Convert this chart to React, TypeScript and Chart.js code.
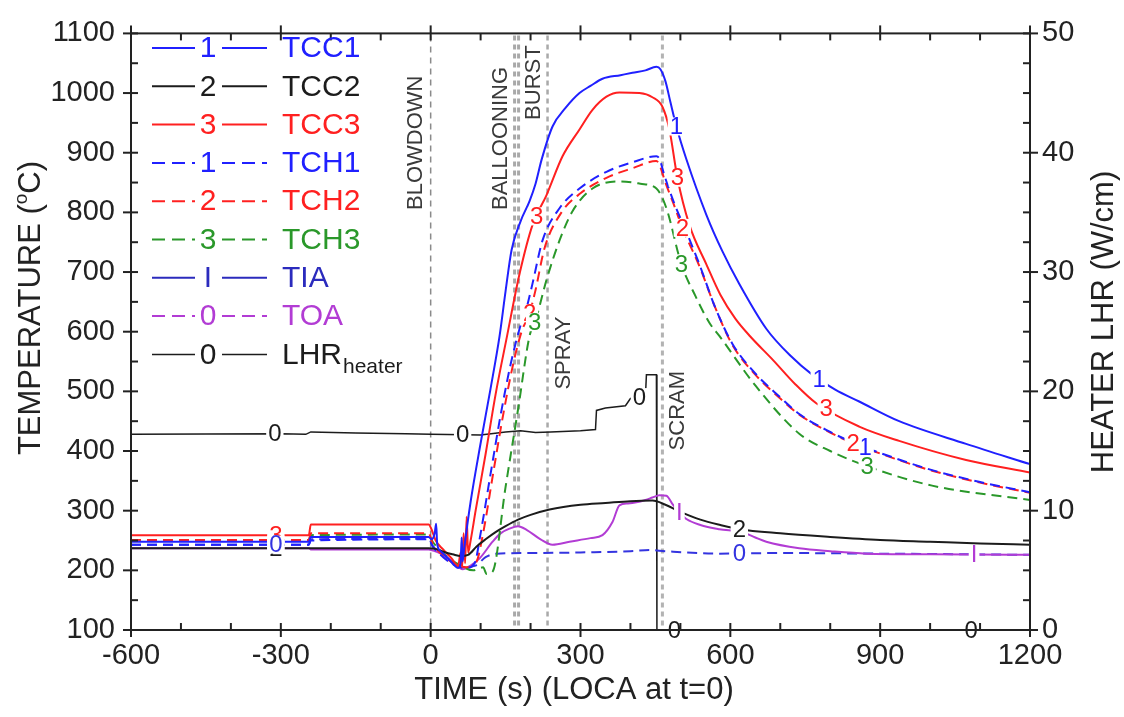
import React, { useEffect, useRef } from "react";
import { Chart, registerables } from "chart.js";

Chart.register(...registerables);

type P = [number, number];

const X_TICKS = [-600, -300, 0, 300, 600, 900, 1200];

const TCC1: P[] = [[-600,248],[-244,248],[-240,256],[-4,256],[2,252],[8,262],[11,278],[13,245],[20,232],[35,220],[48,208],[55,204],[60,212],[62,255],[64,215],[67,236],[80,315],[100,413],[120,505],[138,593],[150,668],[162,737],[180,785],[198,819],[210,848],[222,888],[244,944],[270,975],[298,1000],[320,1012],[344,1024],[380,1030],[404,1034],[430,1038],[452,1044],[460,1040],[470,1020],[480,985],[492,944],[512,889],[552,796],[584,735],[618,680],[672,605],[720,560],[764,528],[810,503],[858,483],[938,450],[1072,412],[1200,378]];
const TCC2: P[] = [[-600,237],[-4,237],[10,236],[30,230],[44,227],[60,224],[75,226],[92,240],[110,252],[130,264],[150,274],[175,285],[200,293],[238,302],[300,310],[350,313],[400,316],[444,317],[470,310],[500,298],[540,285],[580,276],[618,269],[700,262],[800,256],[900,251],[1000,248],[1100,245],[1200,243]];
const TCC3: P[] = [[-600,259],[-244,259],[-240,277],[-4,277],[2,268],[10,250],[25,235],[42,220],[55,207],[60,230],[63,205],[66,262],[69,212],[72,290],[75,230],[80,250],[90,300],[110,395],[130,495],[153,593],[178,697],[204,779],[232,829],[264,894],[298,939],[324,972],[352,994],[378,1001],[418,1000],[444,993],[464,977],[478,939],[494,858],[518,779],[552,713],[580,662],[610,622],[640,592],[686,552],[730,512],[772,480],[858,441],[938,417],[1072,385],[1200,364]];
const TCH1: P[] = [[-600,243],[-244,243],[-240,250],[-4,252],[4,240],[25,222],[50,208],[70,204],[88,212],[100,262],[120,362],[140,460],[160,545],[178,605],[192,640],[204,681],[224,753],[258,807],[298,840],[352,868],[404,884],[452,894],[458,890],[468,862],[486,819],[518,755],[538,713],[570,640],[604,580],[650,530],[700,490],[738,462],[800,432],[852,412],[930,388],[1004,368],[1100,348],[1200,331]];
const TCH2: P[] = [[-600,251],[-244,251],[-240,262],[-4,262],[4,245],[25,225],[50,210],[72,205],[92,215],[105,262],[125,362],[145,460],[165,545],[182,600],[198,631],[210,670],[228,740],[262,800],[300,832],[352,858],[404,874],[452,886],[458,880],[470,850],[486,815],[504,774],[538,710],[570,640],[604,578],[650,528],[700,488],[738,461],[800,431],[852,411],[930,387],[1004,367],[1100,347],[1200,330]];
const TCH3: P[] = [[-600,251],[-244,251],[-240,259],[-4,260],[4,248],[30,225],[60,208],[85,200],[105,205],[112,194],[124,198],[150,340],[175,470],[198,593],[212,625],[232,687],[258,753],[284,802],[324,840],[378,852],[420,848],[452,840],[472,807],[502,713],[530,660],[558,615],[578,593],[650,510],[738,429],[800,400],[872,375],[1004,342],[1200,318]];
const TIA: P[] = [[-600,237],[-244,237],[-240,235],[-4,235],[5,233],[20,228],[44,215],[64,202],[80,208],[98,220],[124,248],[140,262],[158,270],[175,274],[192,268],[220,252],[244,243],[278,248],[320,254],[344,259],[364,281],[378,309],[395,312],[412,314],[430,318],[444,322],[458,326],[472,325],[485,310],[498,297],[512,286],[540,276],[578,269],[624,264],[650,255],[672,248],[738,237],[800,232],[872,228],[1000,227],[1200,226]];
const TOA: P[] = [[-600,243],[-244,243],[-240,252],[-4,253],[5,240],[30,222],[60,205],[90,208],[110,222],[132,228],[200,229],[300,230],[400,232],[438,234],[470,232],[578,228],[700,229],[900,228],[1200,226]];
const LHR: P[] = [[-600,16.4],[-300,16.45],[-250,16.4],[-240,16.6],[-150,16.5],[-50,16.45],[0,16.4],[100,16.35],[150,16.6],[180,16.7],[210,16.55],[240,16.6],[300,16.7],[330,16.8],[332,18.4],[350,18.6],[390,18.8],[400,19.4],[430,19.6],[432,21.4],[452,21.4],[453,0],[1200,0]];

const TCC1_MARKS = [492, 778];
const TCC2_MARKS = [-310, 618];
const TCC3_MARKS = [-310, 212, 494, 792];
const TCH1_MARKS = [870];
const TCH2_MARKS = [198, 504, 846];
const TCH3_MARKS = [208, 502, 874];
const TIA_MARKS = [498, 1088];
const TOA_MARKS = [-310, 618];
const LHR_MARKS = [-312, 64, 418, 488, 1082];

const EVENT_LINES = [0, 168, 176, 234, 464];
const EVENT_NAMES = ["BLOWDOWN", "BALLOONING", "BURST", "SPRAY", "SCRAM"];

const FONT = '"Liberation Sans", Arial, Helvetica, sans-serif';
const f = (s: number) => `${s}px ${FONT}`;

const BLUE = "#2020ff";
const RED = "#ff2020";
const GREEN = "#2a982a";
const BLACK = "#1c1c1c";
const PURPLE = "#b23cd4";
const PBLUE = "#3434e0";
const DARKBLUE = "#2b2bbd";

function interp(s: P[], t: number): number {
  for (let i = 1; i < s.length; i++) {
    if (t <= s[i][0]) {
      const [x0, y0] = s[i - 1];
      const [x1, y1] = s[i];
      return y0 + ((y1 - y0) * (t - x0)) / (x1 - x0 || 1);
    }
  }
  return s[s.length - 1][1];
}

const SERIES = [
  { name: "TCC1", data: TCC1, color: BLUE, dash: false, mark: "1", marks: TCC1_MARKS, axis: "y" },
  { name: "TCC2", data: TCC2, color: BLACK, dash: false, mark: "2", marks: TCC2_MARKS, axis: "y" },
  { name: "TCC3", data: TCC3, color: RED, dash: false, mark: "3", marks: TCC3_MARKS, axis: "y" },
  { name: "TCH1", data: TCH1, color: BLUE, dash: true, mark: "1", marks: TCH1_MARKS, axis: "y" },
  { name: "TCH2", data: TCH2, color: RED, dash: true, mark: "2", marks: TCH2_MARKS, axis: "y" },
  { name: "TCH3", data: TCH3, color: GREEN, dash: true, mark: "3", marks: TCH3_MARKS, axis: "y" },
  { name: "TIA", data: TIA, color: PURPLE, dash: false, mark: "I", marks: TIA_MARKS, axis: "y" },
  { name: "TOA", data: TOA, color: PBLUE, dash: true, mark: "0", marks: TOA_MARKS, axis: "y" },
  { name: "LHR", data: LHR, color: BLACK, dash: false, mark: "0", marks: LHR_MARKS, axis: "y2" },
];

const LEGEND = [
  { name: "TCC1", color: BLUE, dash: false, mark: "1" },
  { name: "TCC2", color: BLACK, dash: false, mark: "2" },
  { name: "TCC3", color: RED, dash: false, mark: "3" },
  { name: "TCH1", color: BLUE, dash: true, mark: "1" },
  { name: "TCH2", color: RED, dash: true, mark: "2" },
  { name: "TCH3", color: GREEN, dash: true, mark: "3" },
  { name: "TIA", color: DARKBLUE, dash: false, mark: "I" },
  { name: "TOA", color: PURPLE, dash: true, mark: "0" },
  { name: "LHR", color: BLACK, dash: false, mark: "0" },
];

function seg(ctx: CanvasRenderingContext2D, x0: number, y0: number, x1: number, y1: number) {
  ctx.beginPath();
  ctx.moveTo(x0, y0);
  ctx.lineTo(x1, y1);
  ctx.stroke();
}

const overlay = {
  id: "overlay",
  beforeDatasetsDraw(chart: any) {
    const { ctx, chartArea: a } = chart;
    const xs = chart.scales.x;
    const styles = [
      { w: 1.5, c: "#8a8a8a", d: [6, 5] },
      { w: 3, c: "#a9a9a9", d: [5, 4] },
      { w: 3, c: "#a9a9a9", d: [5, 4] },
      { w: 2.5, c: "#a9a9a9", d: [5, 4] },
      { w: 3, c: "#b3b3b3", d: [5, 4] },
    ];
    ctx.save();
    EVENT_LINES.forEach((t, i) => {
      const px = xs.getPixelForValue(t);
      const s = styles[i];
      ctx.strokeStyle = s.c;
      ctx.lineWidth = s.w;
      ctx.setLineDash(s.d);
      seg(ctx, px, a.top + 2, px, a.bottom);
    });
    ctx.setLineDash([]);
    const labelPos = [
      { t: -32, v: 804 },
      { t: 138, v: 804 },
      { t: 204, v: 955 },
      { t: 264, v: 503 },
      { t: 494, v: 401 },
    ];
    const ys = chart.scales.y;
    ctx.fillStyle = "#3a3a3a";
    ctx.font = f(22);
    ctx.textAlign = "left";
    ctx.textBaseline = "middle";
    EVENT_NAMES.forEach((n, i) => {
      const px = xs.getPixelForValue(labelPos[i].t);
      const py = ys.getPixelForValue(labelPos[i].v);
      ctx.save();
      ctx.translate(px, py);
      ctx.rotate(-Math.PI / 2);
      ctx.fillText(n, 0, 1);
      ctx.restore();
    });
    ctx.restore();
  },
  afterDatasetsDraw(chart: any) {
    const { ctx, chartArea: a } = chart;
    const xs = chart.scales.x;
    ctx.save();
    ctx.font = f(24);
    ctx.textAlign = "center";
    ctx.textBaseline = "middle";
    SERIES.forEach((s) => {
      const sc = chart.scales[s.axis];
      s.marks.forEach((t) => {
        const px = xs.getPixelForValue(t);
        const py = sc.getPixelForValue(interp(s.data, t));
        const w = ctx.measureText(s.mark).width;
        ctx.fillStyle = "#ffffff";
        ctx.fillRect(px - w / 2 - 2, py - 9, w + 4, 18);
        ctx.fillStyle = s.color;
        ctx.fillText(s.mark, px, py + 1);
      });
    });

    ctx.strokeStyle = "#222";
    ctx.lineWidth = 2;
    ctx.strokeRect(a.left, a.top, a.right - a.left, a.bottom - a.top);
    for (let t = -600; t <= 1200; t += 100) {
      const px = xs.getPixelForValue(t);
      const major = t % 300 === 0;
      seg(ctx, px, a.bottom - 7, px, a.bottom + (major ? 7 : 0));
      seg(ctx, px, a.top + 7, px, a.top - (major ? 8 : 0));
    }
    const ys = chart.scales.y;
    for (let v = 100; v <= 1100; v += 50) {
      const py = ys.getPixelForValue(v);
      const major = v % 100 === 0;
      seg(ctx, a.left - (major ? 8 : 0), py, a.left + 7, py);
    }
    const y2 = chart.scales.y2;
    for (let v = 0; v <= 50; v += 2.5) {
      const py = y2.getPixelForValue(v);
      const major = v % 10 === 0;
      seg(ctx, a.right - 7, py, a.right + (major ? 8 : 0), py);
    }

    LEGEND.forEach((e, i) => {
      const y = 48 + i * 38.3;
      ctx.strokeStyle = e.color;
      ctx.lineWidth = e.name === "LHR" ? 1.5 : 2;
      ctx.setLineDash(e.dash ? [13, 7] : []);
      seg(ctx, 152, y, 195, y);
      seg(ctx, 222, y, 267, y);
      ctx.setLineDash([]);
      ctx.fillStyle = e.color;
      ctx.font = f(30);
      ctx.textAlign = "center";
      ctx.textBaseline = "middle";
      ctx.fillText(e.mark, 208, y + 1);
      ctx.textAlign = "left";
      ctx.fillText(e.name, 282, y + 1);
      if (e.name === "LHR") {
        const w = ctx.measureText(e.name).width;
        ctx.font = f(21);
        ctx.fillText("heater", 282 + w + 1, y + 13);
      }
    });

    ctx.fillStyle = "#222";
    ctx.textBaseline = "alphabetic";
    ctx.textAlign = "left";
    ctx.save();
    ctx.translate(29, 308);
    ctx.rotate(-Math.PI / 2);
    ctx.font = f(31);
    const p1 = "TEMPERATURE (";
    const p3 = "C)";
    const w1 = ctx.measureText(p1).width;
    const w3 = ctx.measureText(p3).width;
    ctx.font = f(19);
    const w2 = ctx.measureText("o").width;
    let xx = -(w1 + w2 + w3) / 2;
    ctx.font = f(31);
    ctx.fillText(p1, xx, 11);
    xx += w1;
    ctx.font = f(19);
    ctx.fillText("o", xx, -2);
    xx += w2;
    ctx.font = f(31);
    ctx.fillText(p3, xx, 11);
    ctx.restore();
    ctx.save();
    ctx.translate(1102, 322);
    ctx.rotate(-Math.PI / 2);
    ctx.font = f(31);
    ctx.textAlign = "center";
    ctx.fillText("HEATER LHR (W/cm)", 0, 11);
    ctx.restore();
    ctx.font = f(31);
    ctx.textAlign = "center";
    ctx.fillText("TIME (s) (LOCA at t=0)", 574, 699);
    ctx.restore();
  },
};

const plain = (v: any) => String(v);

export default function App() {
  const ref = useRef<HTMLCanvasElement | null>(null);
  useEffect(() => {
    if (!ref.current) return;
    const tickFont = { family: FONT, size: 29 };
    const chart = new Chart(ref.current, {
      type: "line",
      data: {
        datasets: SERIES.map((s) => ({
          label: s.name,
          data: s.data.map(([x, y]) => ({ x, y })),
          borderColor: s.color,
          backgroundColor: s.color,
          borderWidth: s.name === "LHR" ? 1.5 : 2,
          borderDash: s.dash ? [10, 6] : [],
          pointRadius: 0,
          cubicInterpolationMode: s.name === "LHR" ? "default" : "monotone",
          tension: s.name === "LHR" ? 0 : 0.4,
          fill: false,
          yAxisID: s.axis,
        })),
      },
      options: {
        responsive: false,
        animation: false,
        devicePixelRatio: 1,
        layout: { padding: { top: 22, left: 0, right: 0, bottom: 0 } },
        plugins: { legend: { display: false }, tooltip: { enabled: false } },
        scales: {
          x: {
            type: "linear",
            min: -600,
            max: 1200,
            afterFit: (s: any) => { s.height = 87; },
            afterBuildTicks: (s: any) => { s.ticks = X_TICKS.map((v) => ({ value: v })); },
            grid: { display: false, drawTicks: false },
            border: { display: false },
            ticks: { font: tickFont, color: "#222", padding: 9, maxRotation: 0, autoSkip: false, callback: plain },
          },
          y: {
            type: "linear",
            position: "left",
            min: 100,
            max: 1100,
            afterFit: (s: any) => { s.width = 131; },
            grid: { display: false, drawTicks: false },
            border: { display: false },
            ticks: { stepSize: 100, font: tickFont, color: "#222", padding: 16, callback: plain },
          },
          y2: {
            type: "linear",
            position: "right",
            min: 0,
            max: 50,
            afterFit: (s: any) => { s.width = 94; },
            grid: { display: false, drawTicks: false },
            border: { display: false },
            ticks: { stepSize: 10, font: tickFont, color: "#222", padding: 12, callback: plain },
          },
        },
      } as any,
      plugins: [overlay],
    });
    return () => chart.destroy();
  }, []);
  return (
    <div style={{ position: "fixed", left: 0, top: 0, width: 1124, height: 717, background: "#fff" }}>
      <canvas ref={ref} width={1124} height={717} style={{ display: "block" }} />
    </div>
  );
}
